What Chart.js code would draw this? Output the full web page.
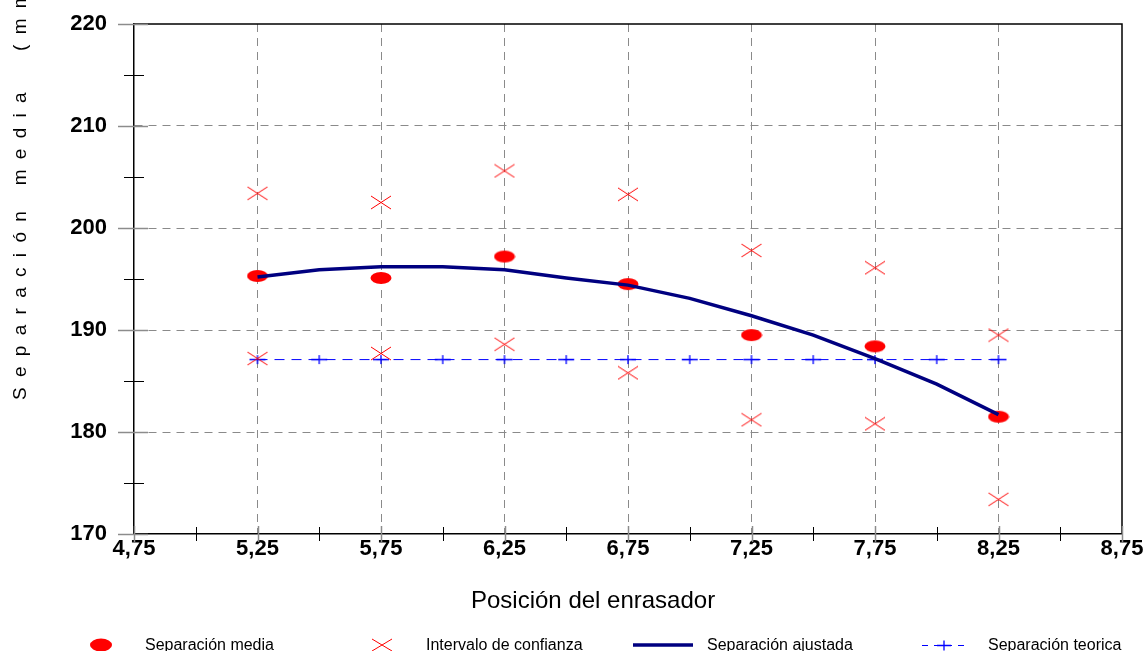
<!DOCTYPE html>
<html>
<head>
<meta charset="utf-8">
<script src="https://cdn.jsdelivr.net/npm/chart.js@4.4.1/dist/chart.umd.min.js"></script>
<style>
html,body{margin:0;padding:0;background:#fff;overflow:hidden}
#wrap{width:1146px;height:651px;position:relative}
</style>
</head>
<body>
<div id="wrap"><canvas id="c" width="1146" height="651"></canvas></div>
<script>
// ---- data ----
const xPositions = [5.25, 5.75, 6.25, 6.75, 7.25, 7.75, 8.25];
const separacionMedia = [195.3, 195.1, 197.2, 194.5, 189.5, 188.4, 181.5];
const intervaloSuperior = [203.4, 202.5, 205.6, 203.3, 197.8, 196.1, 189.5];
const intervaloInferior = [187.2, 187.7, 188.6, 185.8, 181.2, 180.8, 173.4];
const xAjuste = [5.25, 5.5, 5.75, 6.0, 6.25, 6.5, 6.75, 7.0, 7.25, 7.5, 7.75, 8.0, 8.25];
const separacionAjustada = [195.2, 195.9, 196.2, 196.2, 195.9, 195.1, 194.4, 193.1, 191.4, 189.5, 187.2, 184.7, 181.7];
const separacionTeorica = [187.1, 187.1, 187.1, 187.1, 187.1, 187.1, 187.1, 187.1, 187.1, 187.1, 187.1, 187.1, 187.1];
const xTickLabels = ['4,75', '5,25', '5,75', '6,25', '6,75', '7,25', '7,75', '8,25', '8,75'];
const yTickLabels = ['170', '180', '190', '200', '210', '220'];
const seriesNames = ['Separación media', 'Intervalo de confianza', 'Separación ajustada', 'Separación teorica'];
const xTitle = 'Posición del enrasador';
const yTitle = 'Separación media  (mm)';

// ---- styles ----
const RED = '#FF0000', NAVY = '#000080', BLUE = '#0000FF', GRID = '#8a8a8a';
const FONT = '"Liberation Sans", Arial, sans-serif';

function makeCanvas(w, h, fn) {
  const c = document.createElement('canvas');
  c.width = w; c.height = h;
  fn(c.getContext('2d'), w, h);
  return c;
}
function drawEllipse(ctx, cx, cy, rx, ry) {
  ctx.fillStyle = RED;
  ctx.beginPath(); ctx.ellipse(cx, cy, rx, ry, 0, 0, Math.PI * 2); ctx.fill();
}
function drawX(ctx, cx, cy, hw, hh) {
  ctx.strokeStyle = RED; ctx.lineWidth = 1;
  ctx.beginPath();
  ctx.moveTo(cx - hw, cy - hh); ctx.lineTo(cx + hw, cy + hh);
  ctx.moveTo(cx - hw, cy + hh); ctx.lineTo(cx + hw, cy - hh);
  ctx.stroke();
}
function drawPlus(ctx, cx, cy, hw, hh) {
  ctx.strokeStyle = BLUE; ctx.lineWidth = 1.3;
  ctx.beginPath();
  ctx.moveTo(cx - hw, cy); ctx.lineTo(cx + hw, cy);
  ctx.moveTo(cx, cy - hh); ctx.lineTo(cx, cy + hh);
  ctx.stroke();
}
const ellipseImg = makeCanvas(22, 14, (g, w, h) => drawEllipse(g, w / 2, h / 2, 10.5, 6));
const xImg = makeCanvas(22, 15, (g, w, h) => drawX(g, w / 2, h / 2, 10, 6.5));
const plusImg = makeCanvas(18, 11, (g, w, h) => drawPlus(g, w / 2, h / 2, 8, 4.5));

const pts = (xs, ys) => xs.map((x, i) => ({x, y: ys[i]}));
const intervaloPts = xPositions.flatMap((x, i) => [{x, y: intervaloSuperior[i]}, {x, y: intervaloInferior[i]}]);

const fmtX = v => v.toFixed(2).replace('.', ',');
const isMajorX = v => xTickLabels.includes(fmtX(v));
const isMajorY = v => yTickLabels.includes(String(Math.round(v)));

// ---- plugin: frame, crossing tick marks, titles, legend ----
const decor = {
  id: 'decor',
  afterDraw(chart) {
    const {ctx, chartArea: a, scales: {x, y}} = chart;
    ctx.save();
    // top & right frame
    ctx.strokeStyle = '#000'; ctx.lineWidth = 1.5;
    ctx.beginPath();
    ctx.moveTo(a.left, a.top); ctx.lineTo(a.right, a.top); ctx.lineTo(a.right, a.bottom);
    ctx.stroke();
    // y ticks
    y.ticks.forEach(t => {
      const py = Math.round(y.getPixelForValue(t.value)) + 0.5;
      const major = isMajorY(t.value);
      ctx.strokeStyle = major ? '#8c8c8c' : '#000';
      ctx.lineWidth = major ? 1.5 : 1;
      ctx.beginPath();
      ctx.moveTo(a.left - (major ? 16 : 10), py); ctx.lineTo(a.left + (major ? 14 : 10), py);
      ctx.stroke();
    });
    // x ticks
    x.ticks.forEach(t => {
      const px = Math.round(x.getPixelForValue(t.value)) + 0.5;
      const major = isMajorX(t.value);
      ctx.strokeStyle = major ? '#8c8c8c' : '#000';
      ctx.lineWidth = major ? 1.5 : 1;
      ctx.beginPath();
      ctx.moveTo(px, a.bottom - (major ? 8 : 7)); ctx.lineTo(px, a.bottom + (major ? 8 : 7));
      ctx.stroke();
    });
    // y title (letter-spaced, rotated)
    ctx.fillStyle = '#000';
    ctx.save();
    ctx.font = '19px ' + FONT;
    ctx.translate(26, 400);
    ctx.rotate(-Math.PI / 2);
    ctx.letterSpacing = '10.3px';
    ctx.textAlign = 'left'; ctx.textBaseline = 'alphabetic';
    ctx.fillText(yTitle, 0, 0);
    ctx.restore();
    // x title
    ctx.save();
    ctx.font = '24px ' + FONT;
    ctx.textAlign = 'left'; ctx.textBaseline = 'alphabetic';
    ctx.fillText(xTitle, 471, 608);
    ctx.restore();
    // legend
    const start = 145, pitch = 281, base = 650, my = 645, off = 44;
    ctx.font = '16px ' + FONT;
    ctx.textAlign = 'left'; ctx.textBaseline = 'alphabetic';
    seriesNames.forEach((name, i) => {
      const tx = start + pitch * i, mx = tx - off;
      if (i === 0) drawEllipse(ctx, mx, my, 11, 6.5);
      if (i === 1) drawX(ctx, mx, my, 10, 6);
      if (i === 2) {
        ctx.strokeStyle = NAVY; ctx.lineWidth = 3.5; ctx.setLineDash([]);
        ctx.beginPath(); ctx.moveTo(mx - 30, my); ctx.lineTo(mx + 30, my); ctx.stroke();
      }
      if (i === 3) {
        ctx.strokeStyle = BLUE; ctx.lineWidth = 1; ctx.setLineDash([6, 6]);
        ctx.beginPath(); ctx.moveTo(mx - 22, my + 0.5); ctx.lineTo(mx + 23, my + 0.5); ctx.stroke();
        ctx.setLineDash([]);
        drawPlus(ctx, mx, my + 0.5, 7, 5);
      }
      ctx.fillStyle = '#000';
      ctx.fillText(name, tx, base);
    });
    ctx.restore();
  }
};

new Chart(document.getElementById('c'), {
  type: 'scatter',
  data: {
    datasets: [
      {label: seriesNames[2], data: pts(xAjuste, separacionAjustada), showLine: true,
       borderColor: NAVY, borderWidth: 3.5, pointRadius: 0, tension: 0, order: 0},
      {label: seriesNames[0], data: pts(xPositions, separacionMedia), showLine: false,
       pointStyle: ellipseImg, pointRadius: 5, order: 1},
      {label: seriesNames[1], data: intervaloPts, showLine: false,
       pointStyle: xImg, pointRadius: 5, order: 2},
      {label: seriesNames[3], data: pts(xAjuste, separacionTeorica), showLine: true,
       borderColor: BLUE, borderWidth: 1, borderDash: [10, 7], pointStyle: plusImg, pointRadius: 5, order: 3}
    ]
  },
  options: {
    responsive: false, animation: false, devicePixelRatio: 1,
    layout: {padding: {top: 24, right: 24, left: 0, bottom: 0}},
    plugins: {legend: {display: false}, tooltip: {enabled: false}},
    scales: {
      x: {
        type: 'linear', min: 4.75, max: 8.75,
        afterFit: s => { s.height = 117; s.paddingLeft = 0; s.paddingRight = 0; },
        ticks: {stepSize: 0.25, autoSkip: false, maxRotation: 0, padding: 2, color: '#000',
                font: {family: FONT, size: 22, weight: 'bold'},
                callback: v => isMajorX(v) ? fmtX(v) : ''},
        grid: {drawTicks: false, lineWidth: 1,
               color: c => (isMajorX(c.tick.value) && c.tick.value > 4.75 && c.tick.value < 8.75) ? GRID : 'rgba(0,0,0,0)'},
        border: {display: true, color: '#000', width: 1.5, dash: [8, 6]}
      },
      y: {
        min: 170, max: 220,
        afterFit: s => { s.width = 134; s.paddingTop = 0; s.paddingBottom = 0; },
        ticks: {stepSize: 5, autoSkip: false, padding: 27, color: '#000',
                font: {family: FONT, size: 22, weight: 'bold'},
                callback: v => isMajorY(v) ? String(v) : ''},
        grid: {drawTicks: false, lineWidth: 1,
               color: c => (isMajorY(c.tick.value) && c.tick.value > 170 && c.tick.value < 220) ? GRID : 'rgba(0,0,0,0)'},
        border: {display: true, color: '#000', width: 1.5, dash: [8, 6]}
      }
    }
  },
  plugins: [decor]
});
</script>
</body>
</html>
